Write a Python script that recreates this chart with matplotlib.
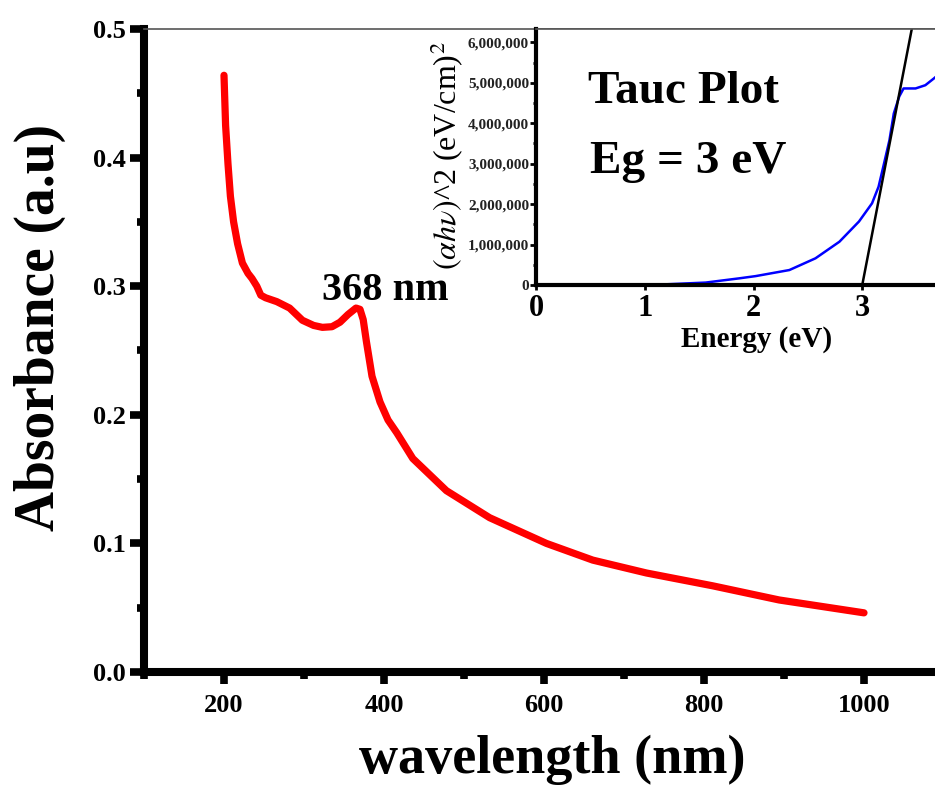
import matplotlib
matplotlib.use('Agg')
import matplotlib.pyplot as plt
from matplotlib.ticker import MultipleLocator, FuncFormatter, FixedLocator

# ---------------- data ----------------
wavelength = [200, 202, 205, 208, 212, 217, 223, 230, 235, 241, 246, 252, 266, 282,
              298, 312, 323, 335, 345, 355, 365, 370, 374, 378, 385, 395, 405, 416,
              436, 478, 532, 603, 661, 728, 811, 894, 1000]
absorbance = [0.464, 0.425, 0.395, 0.370, 0.350, 0.333, 0.318, 0.310, 0.306, 0.300,
              0.293, 0.291, 0.288, 0.283, 0.2735, 0.2695, 0.268, 0.2685, 0.272, 0.278,
              0.283, 0.282, 0.274, 0.257, 0.230, 0.210, 0.196, 0.186, 0.166, 0.141,
              0.120, 0.100, 0.087, 0.077, 0.067, 0.056, 0.046]

energy = [1.22, 1.56, 1.87, 2.02, 2.33, 2.57, 2.79, 2.97, 3.09, 3.15, 3.20, 3.25,
          3.29, 3.34, 3.38, 3.49, 3.58, 3.66, 3.72]
tauc = [0.02e6, 0.06e6, 0.165e6, 0.22e6, 0.37e6, 0.66e6, 1.07e6, 1.57e6, 2.02e6,
        2.43e6, 3.0e6, 3.58e6, 4.24e6, 4.66e6, 4.86e6, 4.86e6, 4.94e6, 5.11e6, 5.25e6]

fit_energy = [3.0, 3.5]
fit_tauc = [0.0, 6.95e6]

x_ticks = [200, 400, 600, 800, 1000]
y_ticks = [0.0, 0.1, 0.2, 0.3, 0.4, 0.5]
inset_x_ticks = [0, 1, 2, 3]
inset_y_ticks = [0, 1e6, 2e6, 3e6, 4e6, 5e6, 6e6]

# ---------------- style ----------------
plt.rcParams['font.family'] = ['Liberation Serif', 'DejaVu Serif']
plt.rcParams['mathtext.fontset'] = 'stix'

W, H = 935, 785
fig = plt.figure(figsize=(W / 100, H / 100), dpi=100)


def frac(l, t, r, b):
    return [l / W, 1 - b / H, (r - l) / W, (b - t) / H]


# ---------------- main axes ----------------
ax = fig.add_axes(frac(144, 29, 944, 672))
ax.plot(wavelength, absorbance, color='#ff0000', lw=5.2, solid_capstyle='round',
        solid_joinstyle='round')
ax.set_xlim(100, 1100)
ax.set_ylim(0, 0.5)
ax.xaxis.set_major_locator(FixedLocator(x_ticks))
ax.xaxis.set_minor_locator(MultipleLocator(100))
ax.yaxis.set_major_locator(FixedLocator(y_ticks))
ax.yaxis.set_minor_locator(MultipleLocator(0.05))
ax.yaxis.set_major_formatter(FuncFormatter(lambda v, p: f'{v:.1f}'))

for s in ['left', 'bottom']:
    ax.spines[s].set_linewidth(5.8)
    ax.spines[s].set_color('black')
ax.spines['top'].set_linewidth(1.2)
ax.spines['top'].set_color('#555555')
ax.spines['right'].set_visible(False)

ax.tick_params(axis='x', which='major', direction='out', length=8.5, width=5.5,
               pad=7, labelsize=19)
ax.tick_params(axis='y', which='major', direction='out', length=10, width=5.5,
               pad=3, labelsize=19)
ax.tick_params(which='minor', direction='out', length=5, width=5.5)
for lab in ax.get_xticklabels() + ax.get_yticklabels():
    lab.set_fontweight('bold')

ax.set_xlabel('wavelength (nm)', fontsize=39, fontweight='bold', va='baseline')
ax.xaxis.set_label_coords(0.51, -0.1570)
ax.set_ylabel('Absorbance (a.u)', fontsize=40, fontweight='bold', va='center')
ax.yaxis.set_label_coords(-0.1300, 0.5365)

ax.text(322, 0.289, '368 nm', fontsize=29, fontweight='bold', ha='left',
        va='baseline')

# ---------------- inset ----------------
ax2 = fig.add_axes(frac(536, 29, 971, 285))
ax2.plot(energy, tauc, color='#0000ff', lw=1.8)
ax2.plot(fit_energy, fit_tauc, color='black', lw=1.8)
ax2.set_xlim(0, 4)
ax2.set_ylim(0, 6.33e6)
ax2.xaxis.set_major_locator(FixedLocator(inset_x_ticks))
ax2.yaxis.set_major_locator(FixedLocator(inset_y_ticks))
ax2.yaxis.set_minor_locator(MultipleLocator(5e5))
ax2.yaxis.set_major_formatter(FuncFormatter(lambda v, p: f'{v:,.0f}'))

for s in ['left', 'bottom']:
    ax2.spines[s].set_linewidth(3)
    ax2.spines[s].set_color('black')
ax2.spines['top'].set_linewidth(1.2)
ax2.spines['top'].set_color('#555555')
ax2.spines['right'].set_visible(False)

ax2.tick_params(axis='x', which='major', direction='out', length=3.5, width=2,
                pad=3, labelsize=22)
ax2.tick_params(axis='y', which='major', direction='out', length=4, width=2,
                pad=1, labelsize=11, labelcolor='#222222')
ax2.tick_params(axis='y', which='minor', direction='out', length=2, width=2)
for lab in ax2.get_xticklabels() + ax2.get_yticklabels():
    lab.set_fontweight('bold')

ax2.set_xlabel('Energy (eV)', fontsize=21, fontweight='bold', va='baseline')
ax2.xaxis.set_label_coords(0.506, -0.242)
ax2.set_ylabel(r'$(\alpha h\nu)$^2 (eV/cm)$^2$', fontsize=23, va='center')
ax2.yaxis.set_label_coords(-0.2046, 0.504)

ax2.text(0.48, 4.5e6, 'Tauc Plot', fontsize=34, fontweight='bold', ha='left',
         va='baseline')
ax2.text(0.50, 2.77e6, 'Eg = 3 eV', fontsize=34, fontweight='bold', ha='left',
         va='baseline')

fig.savefig('out.png', dpi=100)
